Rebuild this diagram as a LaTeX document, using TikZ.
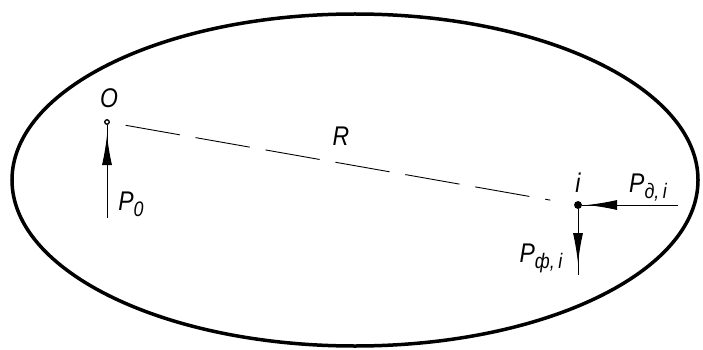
\documentclass[tikz,border=0pt]{standalone}
\usepackage{fontspec}
\setmainfont[FakeStretch=0.85]{Liberation Sans}
\usetikzlibrary{arrows.meta,decorations.markings}

\tikzset{
  force/.style={line width=1pt, postaction={decorate},
    decoration={markings, mark=at position #1 with {\arrow{Latex[length=30pt,width=10pt]}}}},
  lbl/.style={font=\fontsize{27}{27}\selectfont\itshape, inner sep=1pt}
}
\newcommand{\lowidx}[1]{\raisebox{-6pt}{\fontsize{21}{21}\selectfont #1}}

\begin{document}
\begin{tikzpicture}[x=1pt,y=-1pt]
    \useasboundingbox (0,0) rectangle (703,350);

    % контур области
    \draw[line width=3.5pt] (355,180) ellipse [x radius=343pt, y radius=166pt];

    % точки
    \node[circle, draw, line width=1.3pt, inner sep=1.6pt] (O) at (107,122) {};
    \node[circle, fill, inner sep=2.8pt] (i) at (578,205) {};

    % концы линий сил
    \coordinate (O0) at (107,218);
    \coordinate (ID) at (678,205);
    \coordinate (IF) at (578,275);

    % расстояние R
    \draw[line width=0.9pt, dash pattern=on 55pt off 16pt, shorten <=16pt, shorten >=24pt] (O) -- (i);

    % силы
    \draw[force=83pt] (O0) -- (O);
    \draw[force=91pt] (ID) -- (i);
    \draw[force=54pt] (i) -- (IF);

    % подписи
    \node[lbl] (lO) at (109,98) {O};
    \node[lbl] (lR) at (341,136) {R};
    \node[lbl] (li) at (578,183) {i};
    \node[lbl] (lP0) at (131,204) {P\lowidx{0}};
    \node[lbl] (lPd) at (648,188) {P\lowidx{д,\,i}};
    \node[lbl] (lPf) at (541,258) {P\lowidx{ф,\,i}};
\end{tikzpicture}
\end{document}
